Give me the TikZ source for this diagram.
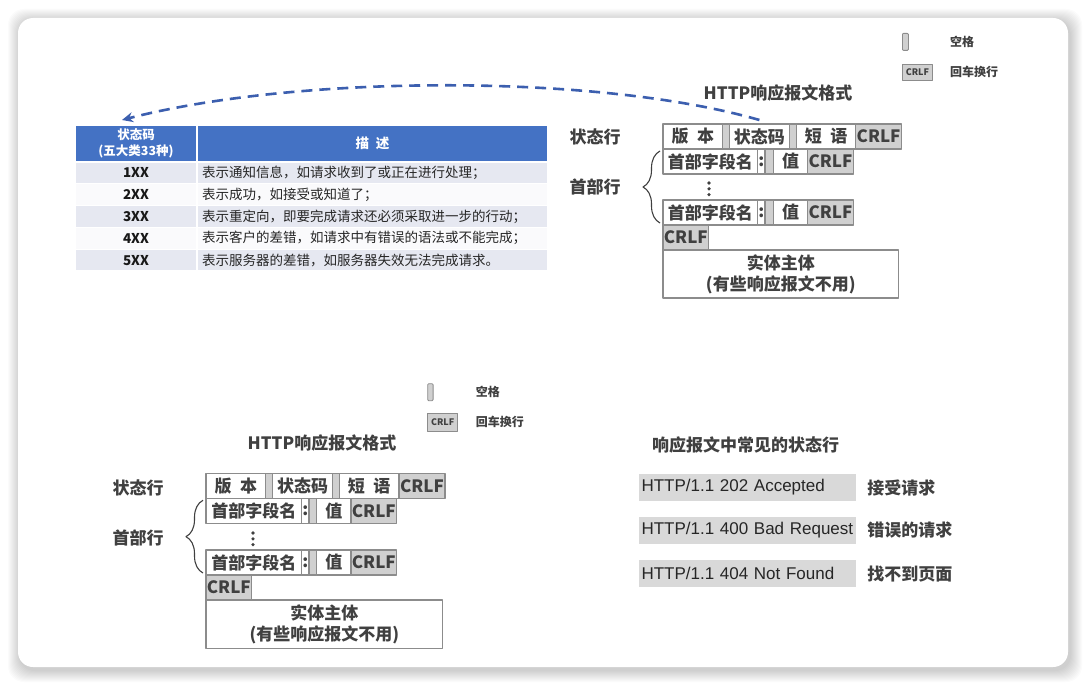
\documentclass[tikz,border=0pt]{standalone}
\usepackage{fontspec}
\setmainfont{Noto Sans CJK SC}
\newfontfamily\arialfont{Liberation Sans}
\usetikzlibrary{positioning,decorations.pathreplacing,arrows.meta}
\definecolor{txtgray}{HTML}{404040}
\definecolor{boxline}{HTML}{8C8C8C}
\definecolor{gapfill}{HTML}{D0D0D0}
\definecolor{barfill}{HTML}{D9D9D9}
\definecolor{headblue}{HTML}{4472C4}
\definecolor{arrowblue}{HTML}{3C5FAF}
\definecolor{rowlav}{HTML}{E6E8F1}
\definecolor{rowwhite}{HTML}{FAFAFC}
\newcommand\lblfont{\fontsize{17}{21}\selectfont\bfseries}
\newcommand\tblfont{\fontsize{13.5}{16}\selectfont}
\newcommand\tblbold{\fontsize{13.5}{16}\selectfont\bfseries}
\newcommand\legfont{\fontsize{12}{14}\selectfont\bfseries}

\begin{document}
\begin{tikzpicture}[x=1pt,y=-1pt,>={Stealth[length=11pt,width=10pt]},line join=round,
	fld/.style={draw=boxline,line width=1.2pt,minimum height=25,inner sep=0pt,outer sep=0pt,text=txtgray,font=\lblfont},
	gapbox/.style={fld,fill=gapfill,minimum width=7},
	crlfbox/.style={fld,fill=gapfill,minimum width=45.6},
	lbl/.style={text=txtgray,font=\lblfont,inner sep=1pt},
	legtxt/.style={text=txtgray,font=\legfont,inner sep=1pt,anchor=west},
	legbox/.style={draw=boxline,fill=gapfill,line width=0.8pt,inner sep=0pt,anchor=north west,text=txtgray,font=\fontsize{9}{10}\selectfont\bfseries},
	cell/.style={fill=rowlav,draw=white,line width=1.2pt,minimum height=21.8,inner sep=0pt,outer sep=0pt,anchor=north west},
	desc/.style={cell,minimum width=351,text width=341,inner xsep=5pt,align=left,font=\tblfont,text=black!85},
	code/.style={cell,minimum width=122,font=\tblbold,text=black!90},
	bar/.style={fill=barfill,minimum height=27,inner xsep=3pt,inner ysep=0pt,text width=211.5,align=left,anchor=west,text=black!85,font=\arialfont\fontsize{17}{20}\selectfont}]
	\useasboundingbox (0,0) rectangle (1086,685);
	\fill[white] (0,0) rectangle (1086,685);
	% card with soft shadow
	\foreach \i in {1,...,12}
		\fill[black,opacity=0.014,rounded corners=16pt] (20-\i,21-\i) rectangle (1070+\i,670+\i);
	\fill[white,rounded corners=15pt] (18,18) rectangle (1068,667);

	% status code table
	\node[cell,fill=headblue,minimum width=122,minimum height=37,align=center,text=white,font=\fontsize{12.5}{15.5}\selectfont\bfseries] (hcode) at (75,125) {状态码\\(五大类33种)};
	\node[cell,fill=headblue,minimum width=351,minimum height=37,text=white,font=\tblbold] (hdesc) at (197,125) {描\hspace{.5em}述};
	\node[code] (c1) at (75,162) {1XX};
	\node[desc] (d1) at (197,162) {表示通知信息，如请求收到了或正在进行处理；};
	\node[code,fill=rowwhite] (c2) at (75,183.8) {2XX};
	\node[desc,fill=rowwhite] (d2) at (197,183.8) {表示成功，如接受或知道了；};
	\node[code] (c3) at (75,205.6) {3XX};
	\node[desc] (d3) at (197,205.6) {表示重定向，即要完成请求还必须采取进一步的行动；};
	\node[code,fill=rowwhite] (c4) at (75,227.4) {4XX};
	\node[desc,fill=rowwhite] (d4) at (197,227.4) {表示客户的差错，如请求中有错误的语法或不能完成；};
	\node[code] (c5) at (75,249.2) {5XX};
	\node[desc] (d5) at (197,249.2) {表示服务器的差错，如服务器失效无法完成请求。};

	% legend (top)
	\node[legbox,minimum width=6,minimum height=17,rounded corners=1pt] (sp-a) at (902,33) {};
	\node[legtxt] (spt-a) at (949,42) {空格};
	\node[legbox,minimum width=30,minimum height=16] (cr-a) at (902,64) {CRLF};
	\node[legtxt] (crt-a) at (949,72) {回车换行};

	% response format (top)
	\node[lbl] (title-a) at (778,93) {HTTP响应报文格式};
	\node[lbl] (sl-a) at (595,137) {状态行};
	\node[lbl] (hl-a) at (595,187) {首部行};
	\node[fld,minimum width=59.6,anchor=north west] (ver-a) at (663,124) {版\hspace{.5em}本};
	\node[gapbox,right=0pt of ver-a] (g1-a) {};
	\node[fld,minimum width=59.6,right=0pt of g1-a] (code-a) {状态码};
	\node[gapbox,right=0pt of code-a] (g2-a) {};
	\node[fld,minimum width=59.6,right=0pt of g2-a] (phr-a) {短\hspace{.5em}语};
	\node[crlfbox,right=0pt of phr-a] (crlf1-a) {CRLF};
	\node[fld,minimum width=94.7,below right=0pt and 0pt of ver-a.south west] (nm2-a) {首部字段名};
	\node[fld,minimum width=7.3,right=0pt of nm2-a] (col2-a) {:};
	\node[gapbox,minimum width=8.3,right=0pt of col2-a] (g3-a) {};
	\node[fld,minimum width=34.4,right=0pt of g3-a] (val2-a) {值};
	\node[crlfbox,right=0pt of val2-a] (crlf2-a) {CRLF};
	\fill[txtgray] (709,183) circle (1.8) (709,188.8) circle (1.8) (709,194.6) circle (1.8);
	\node[fld,minimum width=94.7,anchor=north west] (nm3-a) at (663,200) {首部字段名};
	\node[fld,minimum width=7.3,right=0pt of nm3-a] (col3-a) {:};
	\node[gapbox,minimum width=8.3,right=0pt of col3-a] (g4-a) {};
	\node[fld,minimum width=34.4,right=0pt of g4-a] (val3-a) {值};
	\node[crlfbox,right=0pt of val3-a] (crlf3-a) {CRLF};
	\node[crlfbox,below right=0pt and 0pt of nm3-a.south west] (crlf4-a) {CRLF};
	\node[fld,minimum width=235.5,minimum height=48,align=center,below right=0pt and 0pt of crlf4-a.south west] (body-a) {实体主体\\(有些响应报文不用)};
	\draw[txtgray,line width=1.1pt,decorate,decoration={brace,amplitude=17pt}]
		([xshift=-3pt,yshift=2pt]nm3-a.south west) -- ([xshift=-3pt,yshift=-2pt]nm2-a.north west);

	% arrow back to the table
	\coordinate (tip) at (122,120);
	\draw[->,arrowblue,line width=2.6pt,dash pattern=on 11pt off 7pt]
		([yshift=4pt]code-a.north) .. controls (600,74) and (300,74) .. (tip);

	% legend (bottom)
	\node[legbox,minimum width=5.4,minimum height=17,rounded corners=1pt] (sp-b) at (427.3,383.3) {};
	\node[legtxt] (spt-b) at (474.7,392) {空格};
	\node[legbox,minimum width=30,minimum height=18] (cr-b) at (427.3,412.7) {CRLF};
	\node[legtxt] (crt-b) at (474.7,421.7) {回车换行};

	% response format (bottom)
	\node[lbl] (title-b) at (322,443) {HTTP响应报文格式};
	\node[lbl] (sl-b) at (138,488) {状态行};
	\node[lbl] (hl-b) at (138,538) {首部行};
	\node[fld,minimum width=59.7,anchor=north west] (ver-b) at (206,473.3) {版\hspace{.5em}本};
	\node[gapbox,right=0pt of ver-b] (g1-b) {};
	\node[fld,minimum width=59.6,right=0pt of g1-b] (code-b) {状态码};
	\node[gapbox,right=0pt of code-b] (g2-b) {};
	\node[fld,minimum width=59.7,right=0pt of g2-b] (phr-b) {短\hspace{.5em}语};
	\node[crlfbox,minimum width=46,right=0pt of phr-b] (crlf1-b) {CRLF};
	\node[fld,minimum width=95.7,below right=0pt and 0pt of ver-b.south west] (nm2-b) {首部字段名};
	\node[fld,minimum width=7.3,right=0pt of nm2-b] (col2-b) {:};
	\node[gapbox,minimum width=7.7,right=0pt of col2-b] (g3-b) {};
	\node[fld,minimum width=34.3,right=0pt of g3-b] (val2-b) {值};
	\node[crlfbox,right=0pt of val2-b] (crlf2-b) {CRLF};
	\fill[txtgray] (253,533) circle (1.8) (253,538.8) circle (1.8) (253,544.6) circle (1.8);
	\node[fld,minimum width=95.7,anchor=north west] (nm3-b) at (206,550) {首部字段名};
	\node[fld,minimum width=7.3,right=0pt of nm3-b] (col3-b) {:};
	\node[gapbox,minimum width=7.7,right=0pt of col3-b] (g4-b) {};
	\node[fld,minimum width=34.3,right=0pt of g4-b] (val3-b) {值};
	\node[crlfbox,right=0pt of val3-b] (crlf3-b) {CRLF};
	\node[crlfbox,below right=0pt and 0pt of nm3-b.south west] (crlf4-b) {CRLF};
	\node[fld,minimum width=236.7,minimum height=48.4,align=center,below right=0pt and 0pt of crlf4-b.south west] (body-b) {实体主体\\(有些响应报文不用)};
	\draw[txtgray,line width=1.1pt,decorate,decoration={brace,amplitude=17pt}]
		([xshift=-3pt,yshift=2pt]nm3-b.south west) -- ([xshift=-3pt,yshift=-2pt]nm2-b.north west);

	% common status lines
	\node[lbl,anchor=west] (common) at (651,445) {响应报文中常见的状态行};
	\node[bar] (bar1) at (638.3,487.5) {\mbox{HTTP/1.1 202 Accepted}};
	\node[bar] (bar2) at (638.3,530.3) {\mbox{HTTP/1.1 400 Bad Request}};
	\node[bar] (bar3) at (638.3,573.7) {\mbox{HTTP/1.1 404 Not Found}};
	\node[lbl,right=10pt of bar1] (m1) {接受请求};
	\node[lbl,right=10pt of bar2] (m2) {错误的请求};
	\node[lbl,right=10pt of bar3] (m3) {找不到页面};
\end{tikzpicture}
\end{document}
